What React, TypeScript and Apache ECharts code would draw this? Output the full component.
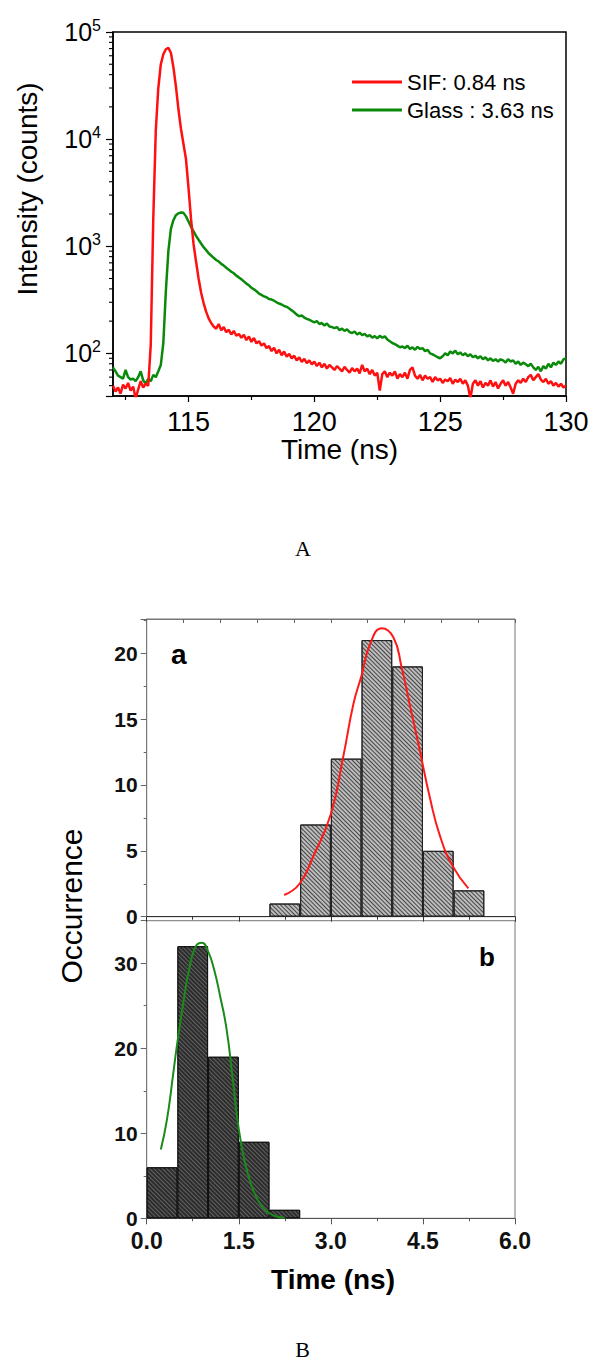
import React, { useEffect, useRef } from 'react';
import * as echarts from 'echarts';

// ---------- Panel A : fluorescence decay (log scale) ----------
const T_START = 112.0; // ns, first channel
const T_STEP = 0.1; // ns per channel

// SIF : 0.84 ns (red), one value per 0.1 ns from 112.0 to 130.0
const sifCounts = [
  50, 44, 48, 42, 51, 47, 53, 45, 49, 38,
  46, 55, 48, 52, 50, 120, 1800, 12000, 30000, 50000,
  62000, 69000, 71000, 64000, 47000, 31000, 19000, 12500, 9000, 6500,
  3500, 1800, 1050, 720, 500, 370, 295, 245, 212, 192,
  178, 170, 188, 164, 176, 158, 166, 150, 162, 146,
  152, 140, 149, 133, 144, 128, 139, 124, 130, 118,
  124, 112, 117, 105, 113, 100, 108, 96, 104, 93,
  99, 90, 95, 86, 92, 83, 89, 81, 86, 79,
  84, 76, 82, 74, 80, 72, 78, 74, 70, 76,
  72, 68, 75, 70, 66, 73, 68, 72, 65, 78,
  68, 72, 64, 70, 62, 66, 45, 64, 68, 60,
  66, 62, 68, 58, 64, 60, 66, 58, 70, 74,
  62, 58, 63, 56, 62, 58, 60, 54, 60, 56,
  58, 53, 57, 55, 59, 52, 57, 54, 58, 52,
  56, 50, 38, 52, 56, 50, 55, 48, 53, 50,
  56, 49, 54, 47, 52, 56, 50, 54, 48, 42,
  52, 56, 53, 58, 54, 60, 63, 56, 60, 64,
  57, 54, 58, 52, 55, 50, 53, 49, 52, 48,
  50,
];

// Glass : 3.63 ns (green)
const glassCounts = [
  74, 68, 62, 60, 58, 70, 60, 57, 58, 55,
  60, 68, 56, 52, 58, 55, 63, 60, 68, 78,
  125, 380, 900, 1450, 1750, 1950, 2030, 2070, 2050, 1900,
  1700, 1520, 1380, 1250, 1150, 1060, 980, 920, 860, 820,
  780, 745, 720, 685, 660, 630, 605, 578, 560, 532,
  512, 492, 470, 448, 432, 410, 396, 380, 362, 352,
  340, 334, 322, 318, 310, 300, 292, 286, 277, 272,
  262, 252, 242, 230, 222, 226, 216, 210, 206, 200,
  195, 200, 188, 192, 182, 190, 178, 176, 172, 176,
  165, 170, 162, 168, 158, 155, 160, 150, 156, 148,
  152, 144, 148, 140, 145, 138, 146, 140, 144, 135,
  130, 125, 122, 118, 114, 116, 112, 118, 110, 114,
  108, 115, 110, 112, 105, 108, 100, 98, 95, 92,
  90, 94, 100, 96, 104, 100, 106, 98, 102, 96,
  100, 94, 98, 92, 95, 90, 94, 88, 92, 86,
  90, 85, 88, 84, 88, 86, 82, 88, 84, 86,
  80, 84, 78, 82, 79, 76, 80, 74, 70, 75,
  68, 76, 72, 80, 74, 82, 78, 84, 80, 88,
  90,
];

const decayLegend = ['SIF: 0.84 ns', 'Glass : 3.63 ns'];
const decayXMajor = [115, 120, 125, 130];
const decayXMinor = [112.5, 117.5, 122.5, 127.5];
const decayYMinor = [
  50, 60, 70, 80, 90,
  200, 300, 400, 500, 600, 700, 800, 900,
  2000, 3000, 4000, 5000, 6000, 7000, 8000, 9000,
  20000, 30000, 40000, 50000, 60000, 70000, 80000, 90000,
];

// ---------- Panel B : lifetime histograms ----------
const binCentersA = [2.25, 2.75, 3.25, 3.75, 4.25, 4.75, 5.25];
const countsA = [1, 7, 12, 21, 19, 5, 2];
const fitAx = [2.24, 2.49, 2.71, 3.0, 3.2, 3.37, 3.5, 3.64, 3.83, 4.02, 4.15, 4.29, 4.45, 4.61, 4.78, 4.99, 5.24];
const fitAy = [1.65, 2.5, 4.55, 7.8, 12.1, 16.2, 18.3, 20.7, 21.9, 21.2, 19.0, 16.0, 12.6, 9.1, 6.1, 3.8, 2.15];

const binCentersB = [0.25, 0.75, 1.25, 1.75, 2.25];
const countsB = [6, 32, 19, 9, 1];
const fitBx = [0.23, 0.33, 0.43, 0.49, 0.6, 0.7, 0.8, 0.9, 1.0, 1.1, 1.2, 1.3, 1.4, 1.5, 1.6, 1.7, 1.8, 1.9, 2.0, 2.1, 2.25];
const fitBy = [8.1, 11.6, 16.9, 20.2, 25.5, 29.6, 32.0, 32.4, 31.4, 29.2, 26.0, 22.3, 16.5, 10.5, 6.6, 4.0, 2.3, 1.2, 0.6, 0.25, 0.05];

const SANS = "'Liberation Sans', Arial, Helvetica, sans-serif";
const SERIF = "'Liberation Serif', 'Times New Roman', serif";

function pairs(xs: number[], ys: number[]) {
  return xs.map((x, i) => [x, ys[i]]);
}
function channelPairs(vals: number[]) {
  return vals.map((v, i) => [Math.round((T_START + i * T_STEP) * 10) / 10, v]);
}

export default function App() {
  const ref = useRef<HTMLDivElement>(null);

  useEffect(() => {
    if (!ref.current) return;
    const chart = echarts.init(ref.current, null, { renderer: 'svg' });

    const hatch = (color: string) => ({
      symbol: 'rect',
      symbolSize: 1,
      symbolKeepAspect: false,
      color,
      dashArrayX: [1, 0],
      dashArrayY: [1, 2],
      rotation: Math.PI / 4,
    });

    const option: any = {
      animation: false,
      backgroundColor: '#ffffff',
      grid: [
        { left: 113, top: 32, width: 453, height: 364, show: true, borderColor: '#000', borderWidth: 1.5, backgroundColor: 'transparent' },
        { left: 146.7, top: 619, width: 368.3, height: 297.7, show: true, borderColor: '#777', borderWidth: 1, backgroundColor: 'transparent' },
        { left: 146.7, top: 920.7, width: 368.3, height: 297.6, show: true, borderColor: '#777', borderWidth: 1, backgroundColor: 'transparent' },
      ],
      legend: {
        data: decayLegend,
        orient: 'vertical',
        left: 352,
        top: 71,
        padding: 0,
        itemWidth: 50,
        itemHeight: 3,
        itemGap: 6,
        icon: 'rect',
        selectedMode: false,
        textStyle: { fontSize: 22, fontFamily: SANS, color: '#000' },
      },
      xAxis: [
        {
          gridIndex: 0, type: 'value', position: 'bottom', min: 112, max: 130,
          axisLine: { show: true, onZero: false, lineStyle: { color: '#000', width: 1.5 } },
          axisTick: { show: true, customValues: decayXMajor, length: 6, lineStyle: { color: '#000', width: 1.2 } },
          axisLabel: { show: true, customValues: decayXMajor, fontSize: 27, fontFamily: SANS, color: '#000', margin: 12 },
          splitLine: { show: false },
        },
        {
          gridIndex: 0, type: 'value', position: 'bottom', min: 112, max: 130,
          axisLine: { show: false, onZero: false },
          axisTick: { show: true, customValues: decayXMinor, length: 4, lineStyle: { color: '#000', width: 1.2 } },
          axisLabel: { show: false },
          splitLine: { show: false },
        },
        {
          gridIndex: 1, type: 'value', position: 'bottom', min: 0, max: 6, interval: 1.5,
          axisLine: { show: true, onZero: false, lineStyle: { color: '#333', width: 1 } },
          axisTick: { show: true, length: 5, lineStyle: { color: '#333' } },
          minorTick: { show: true, splitNumber: 2, length: 3, lineStyle: { color: '#333' } },
          axisLabel: { show: false },
          splitLine: { show: false },
        },
        {
          gridIndex: 1, type: 'value', position: 'top', min: 0, max: 6, interval: 0.6,
          axisLine: { show: true, onZero: false, lineStyle: { color: '#777', width: 1 } },
          axisTick: { show: true, inside: true, length: 4, lineStyle: { color: '#666' } },
          axisLabel: { show: false },
          splitLine: { show: false },
        },
        {
          gridIndex: 2, type: 'value', position: 'bottom', min: 0, max: 6, interval: 1.5,
          axisLine: { show: true, onZero: false, lineStyle: { color: '#555', width: 1 } },
          axisTick: { show: true, length: 6, lineStyle: { color: '#555' } },
          minorTick: { show: true, splitNumber: 2, length: 3, lineStyle: { color: '#555' } },
          axisLabel: {
            show: true, fontSize: 23, fontWeight: 'bold', fontFamily: SANS, color: '#111', margin: 13,
            lineHeight: 20,
            formatter: (v: number) => v.toFixed(1),
          },
          splitLine: { show: false },
        },
      ],
      yAxis: [
        {
          gridIndex: 0, type: 'log', logBase: 10, min: 40, max: 100000,
          axisLine: { show: true, onZero: false, lineStyle: { color: '#000', width: 1.5 } },
          axisTick: { show: true, length: 7, lineStyle: { color: '#000', width: 1.2 } },
          axisLabel: {
            show: true, margin: 12, color: '#000',
            formatter: (v: number) => {
              const l = Math.log10(v);
              const e = Math.round(l);
              if (Math.abs(l - e) > 1e-6) return '';
              return `{b|10}{s|${e}}`;
            },
            rich: {
              b: { fontSize: 25, fontFamily: SANS, color: '#000', lineHeight: 30 },
              s: { fontSize: 16, fontFamily: SANS, color: '#000', lineHeight: 16, verticalAlign: 'top' },
            },
          },
          splitLine: { show: false },
          minorTick: { show: false },
        },
        {
          gridIndex: 1, type: 'value', min: 0, max: 22.6, interval: 5,
          axisLine: { show: true, onZero: false, lineStyle: { color: '#777', width: 1 } },
          axisTick: { show: true, length: 6, lineStyle: { color: '#666' } },
          minorTick: { show: true, splitNumber: 2, length: 3, lineStyle: { color: '#666' } },
          axisLabel: { show: true, showMaxLabel: false, fontSize: 21, lineHeight: 16, fontWeight: 'bold', fontFamily: SANS, color: '#111', margin: 9 },
          splitLine: { show: false },
        },
        {
          gridIndex: 2, type: 'value', min: 0, max: 35, interval: 10,
          axisLine: { show: true, onZero: false, lineStyle: { color: '#777', width: 1 } },
          axisTick: { show: true, length: 6, lineStyle: { color: '#666' } },
          minorTick: { show: true, splitNumber: 2, length: 3, lineStyle: { color: '#666' } },
          axisLabel: { show: true, showMaxLabel: false, fontSize: 21, lineHeight: 16, fontWeight: 'bold', fontFamily: SANS, color: '#111', margin: 9, padding: [0, 0, 3, 0] },
          splitLine: { show: false },
        },
      ],
      series: [
        {
          name: decayLegend[1], type: 'line', xAxisIndex: 0, yAxisIndex: 0,
          data: channelPairs(glassCounts), showSymbol: false, symbol: 'none', clip: true,
          lineStyle: { color: '#0a8a0a', width: 2.5 }, itemStyle: { color: '#0a8a0a' }, z: 3,
        },
        {
          name: decayLegend[0], type: 'line', xAxisIndex: 0, yAxisIndex: 0,
          data: channelPairs(sifCounts), showSymbol: false, symbol: 'none', clip: true,
          lineStyle: { color: '#ff1010', width: 2.5 }, itemStyle: { color: '#ff1010' }, z: 4,
        },
        {
          type: 'custom', xAxisIndex: 0, yAxisIndex: 0, silent: true, z: 6,
          data: decayYMinor.map((v) => [112, v]),
          renderItem: (_p: any, api: any) => {
            const pt = api.coord([api.value(0), api.value(1)]);
            return {
              type: 'line',
              shape: { x1: pt[0] - 4, y1: pt[1], x2: pt[0], y2: pt[1] },
              style: { stroke: '#000', lineWidth: 1.1 },
            };
          },
        },
        {
          type: 'bar', xAxisIndex: 2, yAxisIndex: 1,
          data: pairs(binCentersA, countsA), barWidth: '100%',
          itemStyle: { color: '#bcbcbc', borderColor: '#222', borderWidth: 1, decal: hatch('rgba(30,30,30,0.75)') },
          z: 2,
        },
        {
          type: 'line', xAxisIndex: 2, yAxisIndex: 1, smooth: true,
          data: pairs(fitAx, fitAy), showSymbol: false, symbol: 'none',
          lineStyle: { color: '#ff1a1a', width: 2 }, z: 5,
        },
        {
          type: 'bar', xAxisIndex: 4, yAxisIndex: 2,
          data: pairs(binCentersB, countsB), barWidth: '100%',
          itemStyle: { color: '#2c2c2c', borderColor: '#111', borderWidth: 1, decal: hatch('rgba(110,110,110,0.8)') },
          z: 2,
        },
        {
          type: 'line', xAxisIndex: 4, yAxisIndex: 2, smooth: true,
          data: pairs(fitBx, fitBy), showSymbol: false, symbol: 'none',
          lineStyle: { color: '#1a8a1a', width: 2 }, z: 5,
        },
      ],
      graphic: [
        {
          type: 'text', x: 27, y: 189, rotation: Math.PI / 2,
          style: { text: 'Intensity (counts)', fontSize: 28, fontFamily: SANS, fill: '#000', align: 'center', verticalAlign: 'middle' },
        },
        {
          type: 'text', x: 339.5, y: 449,
          style: { text: 'Time (ns)', fontSize: 28, fontFamily: SANS, fill: '#000', align: 'center', verticalAlign: 'middle' },
        },
        {
          type: 'text', x: 303, y: 548,
          style: { text: 'A', fontSize: 22, fontFamily: SERIF, fill: '#000', align: 'center', verticalAlign: 'middle' },
        },
        {
          type: 'text', x: 71, y: 906, rotation: Math.PI / 2,
          style: { text: 'Occurrence', fontSize: 30, fontFamily: SANS, fill: '#000', align: 'center', verticalAlign: 'middle' },
        },
        {
          type: 'text', x: 171, y: 654,
          style: { text: 'a', fontSize: 28, fontWeight: 'bold', fontFamily: SANS, fill: '#000', align: 'left', verticalAlign: 'middle' },
        },
        {
          type: 'text', x: 479, y: 957,
          style: { text: 'b', fontSize: 26, fontWeight: 'bold', fontFamily: SANS, fill: '#000', align: 'left', verticalAlign: 'middle' },
        },
        {
          type: 'text', x: 333, y: 1279,
          style: { text: 'Time (ns)', fontSize: 28, fontWeight: 'bold', fontFamily: SANS, fill: '#000', align: 'center', verticalAlign: 'middle' },
        },
        {
          type: 'text', x: 302.5, y: 1349,
          style: { text: 'B', fontSize: 22, fontFamily: SERIF, fill: '#000', align: 'center', verticalAlign: 'middle' },
        },
      ],
    };

    chart.setOption(option);
    return () => {
      chart.dispose();
    };
  }, []);

  return (
    <div
      ref={ref}
      style={{ position: 'absolute', left: 0, top: 0, width: 602, height: 1367, background: '#fff' }}
    />
  );
}
